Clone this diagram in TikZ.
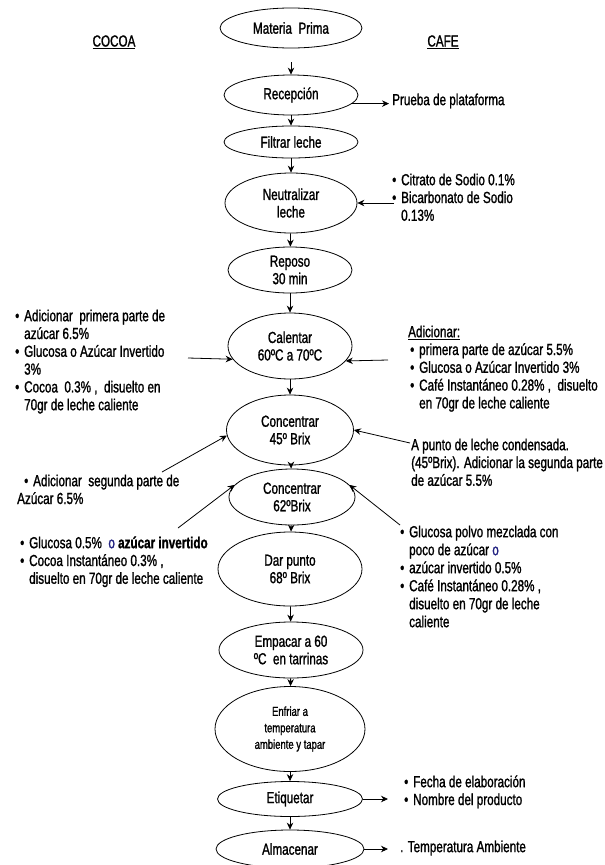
\documentclass[tikz,border=0pt]{standalone}
\usepackage{fontspec}
\setmainfont{Liberation Sans}[FakeStretch=0.73, FakeBold=1.2]
\usetikzlibrary{arrows.meta,shapes.geometric}
\definecolor{obl}{RGB}{35,35,130}
\newcommand{\bl}{\makebox[9pt][l]{•}}
\newcommand{\bulind}{\hspace*{9pt}}
\newcommand{\firstl}{\rule{0pt}{15pt}}
\begin{document}
\begin{tikzpicture}[x=1pt,y=-1pt,
  stepell/.style={draw=black, line width=0.8pt, ellipse, inner sep=0pt, align=center, font=\fontsize{16}{17.5}\selectfont},
  arr/.style={draw=black, line width=0.8pt, -{Stealth[length=7pt,width=6.5pt]}},
  note/.style={inner sep=0pt, align=left, anchor=north west, font=\fontsize{16}{17.8}\selectfont},
  lbl/.style={inner sep=0pt, anchor=west, font=\fontsize{16}{17.8}\selectfont}
]
\useasboundingbox (0,0) rectangle (605,865);
\fill[white] (0,0) rectangle (605,865);

% main column
\node[stepell, minimum width=142pt, minimum height=40pt] (mp) at (291,28) {Materia\ \ Prima};
\node[stepell, minimum width=134pt, minimum height=40pt] (rec) at (291,95) {Recepción};
\node[stepell, minimum width=134pt, minimum height=32pt] (fil) at (291,142) {Filtrar leche};
\node[stepell, minimum width=132pt, minimum height=60pt] (neu) at (291,203) {Neutralizar\\leche};
\node[stepell, minimum width=124pt, minimum height=46pt] (rep) at (290,270) {Reposo\\30 min};
\node[stepell, minimum width=124pt, minimum height=66pt] (cal) at (290,346) {Calentar\\60ºC a 70ºC};
\node[stepell, minimum width=127pt, minimum height=70pt] (c45) at (290,430) {Concentrar\\45º Brix};
\node[stepell, minimum width=126pt, minimum height=56pt] (c62) at (292,497) {Concentrar\\62ºBrix};
\node[stepell, minimum width=144pt, minimum height=74pt] (dar) at (290,569) {Dar punto\\68º Brix};
\node[stepell, minimum width=144pt, minimum height=56pt] (emp) at (291,650) {Empacar a 60\\ºC\ \ en tarrinas};
\node[stepell, minimum width=150pt, minimum height=85pt, font=\fontsize{13}{16.5}\selectfont] (enf) at (290,729) {Enfriar a\\temperatura\\ambiente y tapar};
\node[stepell, minimum width=145pt, minimum height=35pt] (eti) at (290,799) {Etiquetar};
\node[stepell, minimum width=148pt, minimum height=38pt] (alm) at (290,849) {Almacenar};

% main flow
\draw[arr, shorten <=14pt] (mp) -- (rec);
\draw[arr] (rec) -- (fil);
\draw[arr] (fil) -- (neu);
\draw[arr] (neu) -- (rep);
\draw[arr] (rep) -- (cal);
\draw[arr] (cal) -- (c45);
\draw[arr] (c45) -- (c62);
\draw[arr] (c62) -- (dar);
\draw[arr] (dar) -- (emp);
\draw[arr] (emp) -- (enf);
\draw[arr] (enf) -- (eti);
\draw[arr] (eti) -- (alm);

% headers
\node[lbl, anchor=center] (cocoa) at (114,42) {\underline{COCOA}};
\node[lbl, anchor=center] (cafe) at (443,42) {\underline{CAFE}};

% Recepcion
\node[lbl] (prueba) at (392,101) {Prueba de plataforma};
\draw[arr, shorten >=3pt] (rec.-8) -- (rec.-8 -| prueba.west);

% Neutralizar
\node[note] (neutxt) at (392,170) {\firstl\bl Citrato de Sodio 0.1\%\\\bl Bicarbonato de Sodio\\\bulind 0.13\%};
\coordinate (neuin) at (394,203);
\draw[arr] (neuin) -- (neu.east);

% Calentar
\node[note] (calLtxt) at (15,306) {\firstl\bl Adicionar\ \ primera parte de\\\bulind azúcar 6.5\%\\\bl Glucosa o Azúcar Invertido\\\bulind 3\%\\\bl Cocoa\ \ 0.3\% ,\ \ disuelto en\\\bulind 70gr de leche caliente};
\coordinate (calLin) at (188,358);
\draw[arr] (calLin) -- (cal.193);
\node[note] (calRtxt) at (408,322) {\firstl\underline{Adicionar:}\\\hspace*{2pt}\bl primera parte de azúcar 5.5\%\\\hspace*{2pt}\bl Glucosa o Azúcar Invertido 3\%\\\hspace*{2pt}\bl Café Instantáneo 0.28\% ,\ \ disuelto\\\hspace*{2pt}\bulind en 70gr de leche caliente};
\coordinate (calRin) at (388,360);
\draw[arr] (calRin) -- (cal.-15);

% Concentrar 45
\coordinate (c45Lin) at (162,472);
\draw[arr] (c45Lin) -- (c45.185);
\node[note] (apunto) at (411,435) {\firstl A punto de leche condensada.\\(45ºBrix). Adicionar la segunda parte\\de azúcar 5.5\%};
\coordinate (c45Rin) at (410,443);
\draw[arr] (c45Rin) -- (c45.0);
\node[note] (adseg) at (17,471) {\firstl\hspace*{7pt}\bl Adicionar\ \ segunda parte de\\Azúcar 6.5\%};

% Concentrar 62
\coordinate (c62Lin) at (178,528);
\draw[arr] (c62Lin) -- (c62.168);
\coordinate (c62Rin) at (400,525);
\draw[arr] (c62Rin) -- (c62.12);
\node[note] (gluL) at (20,533) {\firstl\bl Glucosa 0.5\%\ \ {\color{obl}o} \textbf{azúcar invertido}\\\bl Cocoa Instantáneo 0.3\% ,\\\bulind disuelto en 70gr de leche caliente};
\node[note, font=\fontsize{16}{18}\selectfont] (gluR) at (400,522) {\firstl\bl Glucosa polvo mezclada con\\\bulind poco de azúcar {\color{obl}o}\\\bl azúcar invertido 0.5\%\\\bl Café Instantáneo 0.28\% ,\\\bulind disuelto en 70gr de leche\\\bulind caliente};

% Etiquetar / Almacenar
\node[note] (fecha) at (404,772) {\firstl\bl Fecha de elaboración\\\bl Nombre del producto};
\coordinate (etiout) at (388,799);
\draw[arr] (eti.east) -- (etiout);
\node[lbl] (temp) at (400,848) {. Temperatura Ambiente};
\coordinate (almout) at (388,849);
\draw[arr] (alm.east) -- (almout);
\end{tikzpicture}
\end{document}
